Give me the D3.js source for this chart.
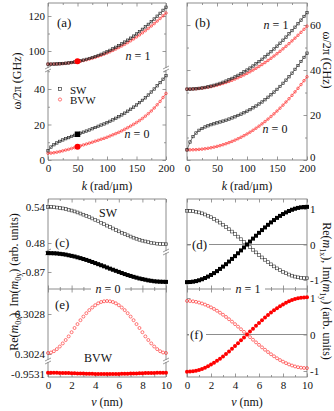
<!DOCTYPE html>
<html>
<head>
<meta charset="utf-8">
<script src="https://cdn.jsdelivr.net/npm/d3@7"></script>
<style>
  body { margin: 0; background: #fff; }
  svg { font-family: "Liberation Serif", "Times New Roman", "DejaVu Serif", serif; }
  svg text { font-family: "Liberation Serif", "Times New Roman", "DejaVu Serif", serif; fill: #111; }
</style>
</head>
<body>
<div id="chart"></div>
<script>
// ---------- data ----------
const kRad = [0,5,10,15,20,25,30,35,40,45,50,55,60,65,70,75,80,85,90,95,100,105,110,115,120,125,130,135,140,145,150,155,160,165,170,175,180,185,190,195,200];

// panel (a), GHz
const aSW1 = [92.5,92.51,92.54,92.61,92.71,92.84,93.0,93.2,93.44,93.72,94.04,94.4,94.8,95.24,95.73,96.26,96.83,97.45,98.11,98.82,99.57,100.37,101.22,102.12,103.06,104.06,105.1,106.19,107.33,108.52,109.76,111.05,112.39,113.78,115.23,116.73,118.28,119.88,121.53,123.24,125.0];
const aBVW1 = [92.5,92.51,92.54,92.6,92.68,92.8,92.95,93.13,93.35,93.6,93.88,94.21,94.57,94.96,95.4,95.87,96.39,96.94,97.54,98.18,98.86,99.57,100.34,101.14,101.99,102.88,103.82,104.8,105.82,106.89,108.01,109.17,110.37,111.62,112.92,114.27,115.66,117.1,118.58,120.12,121.7];
const aSW0 = [5.2,7.3,8.6,9.6,10.5,11.3,12.0,12.6,13.3,13.9,14.5,15.1,15.7,16.3,16.9,17.6,18.3,19.0,19.7,20.3,21.0,21.8,22.6,23.5,24.4,25.4,26.4,27.5,28.6,29.8,31.0,32.3,33.6,35.0,36.6,38.3,40.0,41.8,43.6,45.5,47.5];
const aBVW0 = [3.8,3.9,4.1,4.4,4.75,5.15,5.6,6.0,6.5,7.0,7.5,8.0,8.5,9.0,9.5,10.0,10.6,11.1,11.7,12.2,12.8,13.5,14.2,14.9,15.6,16.4,17.3,18.2,19.1,20.1,21.1,22.2,23.4,24.7,26.1,27.6,29.3,31.1,33.0,35.2,37.5];
// highlighted points at k = 50
const markK = 50;
const markSW0 = 14.5, markBVW0 = 7.5, markBVW1 = 94.2;

// panel (b), GHz
const bSW1 = [31.5,31.52,31.59,31.69,31.84,32.03,32.27,32.54,32.86,33.22,33.63,34.07,34.56,35.09,35.67,36.28,36.94,37.64,38.39,39.17,40.0,40.87,41.79,42.74,43.74,44.78,45.87,46.99,48.16,49.37,50.63,51.92,53.26,54.64,56.07,57.53,59.04,60.59,62.19,63.82,65.5];
const bBVW1 = [31.5,31.52,31.57,31.66,31.78,31.94,32.13,32.36,32.62,32.92,33.25,33.62,34.02,34.46,34.93,35.44,35.98,36.56,37.17,37.82,38.5,39.22,39.97,40.76,41.58,42.44,43.33,44.26,45.22,46.22,47.25,48.32,49.42,50.56,51.73,52.94,54.18,55.46,56.77,58.12,59.5];
const bSW0 = [4.5,8.0,10.4,12.0,13.2,14.0,14.7,15.2,15.7,16.1,16.5,16.9,17.3,17.7,18.2,18.7,19.2,19.8,20.4,21.0,21.7,22.4,23.2,24.0,24.9,25.8,26.8,27.9,29.0,30.2,31.4,32.7,34.1,35.5,37.0,38.6,40.3,42.0,43.8,45.6,47.5];
const bBVW0 = [4.5,4.51,4.55,4.61,4.71,4.84,5.0,5.2,5.44,5.72,6.04,6.4,6.8,7.24,7.73,8.26,8.83,9.45,10.11,10.82,11.57,12.37,13.22,14.12,15.06,16.06,17.1,18.19,19.33,20.52,21.76,23.05,24.39,25.78,27.23,28.73,30.28,31.88,33.53,35.24,37.0];

const vNm = [0,0.25,0.5,0.75,1,1.25,1.5,1.75,2,2.25,2.5,2.75,3,3.25,3.5,3.75,4,4.25,4.5,4.75,5,5.25,5.5,5.75,6,6.25,6.5,6.75,7,7.25,7.5,7.75,8,8.25,8.5,8.75,9,9.25,9.5,9.75,10];

// n = 0 profiles (c: SW, e: BVW)
const cReSW = [0.5400,0.5399,0.5396,0.5391,0.5385,0.5376,0.5366,0.5354,0.5341,0.5326,0.5309,0.5291,0.5272,0.5252,0.5231,0.5209,0.5186,0.5162,0.5138,0.5114,0.5090,0.5066,0.5042,0.5018,0.4994,0.4971,0.4949,0.4928,0.4908,0.4889,0.4871,0.4854,0.4839,0.4826,0.4814,0.4804,0.4795,0.4789,0.4784,0.4781,0.4780];
const cImSW = [-0.8490,-0.8491,-0.8492,-0.8494,-0.8498,-0.8502,-0.8507,-0.8514,-0.8521,-0.8528,-0.8537,-0.8546,-0.8556,-0.8566,-0.8577,-0.8589,-0.8601,-0.8613,-0.8625,-0.8637,-0.8650,-0.8663,-0.8675,-0.8687,-0.8699,-0.8711,-0.8723,-0.8734,-0.8744,-0.8754,-0.8763,-0.8772,-0.8779,-0.8786,-0.8793,-0.8798,-0.8803,-0.8806,-0.8808,-0.8809,-0.8810];
const eReBVW = [0.30241,0.302415,0.302428,0.302449,0.302475,0.302506,0.30254,0.302576,0.302618,0.30266,0.302699,0.302738,0.302774,0.302808,0.302839,0.302865,0.302888,0.302907,0.30292,0.302927,0.30293,0.302927,0.30292,0.302907,0.302888,0.302865,0.302839,0.302808,0.302774,0.302738,0.302699,0.30266,0.302618,0.302576,0.30254,0.302506,0.302475,0.302449,0.302428,0.302415,0.30241];
const eImBVW = [-0.953087,-0.953087,-0.953087,-0.953088,-0.953089,-0.953089,-0.95309,-0.953091,-0.953092,-0.953093,-0.953094,-0.953095,-0.953096,-0.953097,-0.953098,-0.953098,-0.953099,-0.953099,-0.9531,-0.9531,-0.9531,-0.9531,-0.9531,-0.953099,-0.953099,-0.953098,-0.953098,-0.953097,-0.953096,-0.953095,-0.953094,-0.953093,-0.953092,-0.953091,-0.95309,-0.953089,-0.953089,-0.953088,-0.953087,-0.953087,-0.953087];

// n = 1 profiles (d: SW, f: BVW)
const dReSW = [0.95,0.947,0.938,0.924,0.904,0.878,0.846,0.81,0.769,0.722,0.672,0.617,0.558,0.496,0.431,0.364,0.294,0.222,0.149,0.075,0,-0.075,-0.149,-0.222,-0.294,-0.364,-0.431,-0.496,-0.558,-0.617,-0.672,-0.722,-0.769,-0.81,-0.846,-0.878,-0.904,-0.924,-0.938,-0.947,-0.95];
const dImSW = [-1.06,-1.057,-1.047,-1.031,-1.008,-0.979,-0.944,-0.904,-0.858,-0.806,-0.75,-0.688,-0.623,-0.554,-0.481,-0.406,-0.328,-0.247,-0.166,-0.083,0,0.083,0.166,0.247,0.328,0.406,0.481,0.554,0.623,0.688,0.75,0.806,0.858,0.904,0.944,0.979,1.008,1.031,1.047,1.057,1.06];
const fReBVW = [0.92,0.917,0.909,0.895,0.875,0.85,0.82,0.784,0.744,0.7,0.651,0.597,0.541,0.481,0.418,0.352,0.284,0.215,0.144,0.072,0,-0.072,-0.144,-0.215,-0.284,-0.352,-0.418,-0.481,-0.541,-0.597,-0.651,-0.7,-0.744,-0.784,-0.82,-0.85,-0.875,-0.895,-0.909,-0.917,-0.92];
const fImBVW = [-1.02,-1.017,-1.007,-0.992,-0.97,-0.942,-0.909,-0.87,-0.825,-0.776,-0.721,-0.662,-0.6,-0.533,-0.463,-0.39,-0.315,-0.238,-0.16,-0.08,0,0.08,0.16,0.238,0.315,0.39,0.463,0.533,0.6,0.662,0.721,0.776,0.825,0.87,0.909,0.942,0.97,0.992,1.007,1.017,1.02];

// tick values
const kTicks = [0,50,100,150,200], kMinor = [25,75,125,175];
const vTicks = [0,2,4,6,8,10], vMinor = [1,3,5,7,9];
const aUpTicks = [100,120], aUpMinor = [110];
const aLoTicks = [0,20,40], aLoMinor = [10,30,50];
const bTicks = [0,20,40,60], bMinor = [10,30,50];
const cUpTicks = [0.54,0.48], cLoTicks = [-0.87];
const eUpTicks = [0.3028,0.3024], eLoTicks = [-0.9531];
const dfTicks = [1,0,-1];

// ---------- layout ----------
const gray = "#808080", red = "#ff2020", blk = "#1a1a1a";
const serif = '"Liberation Serif", "Times New Roman", "DejaVu Serif", serif';
const L = {x0:48, x1:166}, R = {x0:187, x1:307};
const topY0 = 3, topY1 = 160, botY0 = 199, botMid = 289, botY1 = 377;

const svg = d3.select("#chart").append("svg").attr("width",334).attr("height",411);

// scales
let xkA = d3.scaleLinear().domain([0,200]).range([L.x0,L.x1]);
let xkB = d3.scaleLinear().domain([0,200]).range([R.x0,R.x1]);
let yAUp = d3.scaleLinear().domain([90.29,127.43]).range([68,topY0]);
let yALo = d3.scaleLinear().domain([0,50.7]).range([topY1,70]);
let yB = d3.scaleLinear().domain([0,69.8]).range([topY1,topY0]);

let xvL = d3.scaleLinear().domain([0,10]).range([L.x0,L.x1]);
let xvR = d3.scaleLinear().domain([0,10]).range([R.x0,R.x1]);
let yCUp = d3.scaleLinear().domain([0.4667,0.5533]).range([251,botY0]);
let yCLo = d3.scaleLinear().domain([-0.8889,-0.8489]).range([botMid,253]);
let yEUp = d3.scaleLinear().domain([0.30234,0.30305]).range([360,botMid]);
let yELo = d3.scaleLinear().domain([-0.95313,-0.95298]).range([botY1,362]);
let yD = d3.scaleLinear().domain([-1,1]).range([280,209]);
let yF = d3.scaleLinear().domain([-1,1]).range([371,298]);

function styleAxis(g, size) {
  g.select(".domain").remove();
  g.attr("font-family",serif);
  g.selectAll("line").attr("stroke",gray).attr("stroke-width",0.8);
  g.selectAll("text").attr("font-family",serif).attr("font-size",size||11).attr("fill","#111");
}

// axis helper: kind = bottom/top/left/right, ticks inward
function axis(kind, scale, pos, vals, minor, labels, pad) {
  let mk = {bottom:d3.axisBottom, top:d3.axisTop, left:d3.axisLeft, right:d3.axisRight}[kind];
  let tr = (kind=="bottom"||kind=="top") ? "translate(0,"+pos+")" : "translate("+pos+",0)";
  let g = svg.append("g").attr("transform",tr)
    .call(mk(scale).tickValues(vals).tickSizeInner(-3.5).tickSizeOuter(0).tickPadding(pad||3)
      .tickFormat(labels ? (d => String(d)) : ""));
  styleAxis(g);
  if (minor) {
    let gm = svg.append("g").attr("transform",tr)
      .call(mk(scale).tickValues(minor).tickSizeInner(-2).tickSizeOuter(0).tickFormat(""));
    styleAxis(gm);
  }
  return g;
}

function hline(x0,x1,y) {
  svg.append("line").attr("x1",x0).attr("x2",x1).attr("y1",y).attr("y2",y).attr("stroke",gray).attr("stroke-width",0.9);
}
function vline(x,y0,y1) {
  svg.append("line").attr("x1",x).attr("x2",x).attr("y1",y0).attr("y2",y1).attr("stroke",gray).attr("stroke-width",0.9);
}
function breakMark(x,y) {
  [-1.5,1.5].forEach(o => {
    svg.append("line").attr("x1",x-3).attr("x2",x+3).attr("y1",y+o+1.5).attr("y2",y+o-1.5)
       .attr("stroke",gray).attr("stroke-width",0.8);
  });
}

function marks(xs, ys, xS, yS, shape, size, filled, col) {
  let pts = xs.map((x,i) => [xS(x), yS(ys[i])]);
  let g = svg.append("g");
  if (shape=="sq") {
    g.selectAll("rect").data(pts).join("rect")
      .attr("x",d=>d[0]-size/2).attr("y",d=>d[1]-size/2).attr("width",size).attr("height",size)
      .attr("fill",filled?col:"none").attr("stroke",col).attr("stroke-width",filled?0:0.6);
  } else {
    g.selectAll("circle").data(pts).join("circle")
      .attr("cx",d=>d[0]).attr("cy",d=>d[1]).attr("r",size/2)
      .attr("fill",filled?col:"none").attr("stroke",col).attr("stroke-width",filled?0:0.6);
  }
}
function curve(xs, ys, xS, yS, col) {
  let line = d3.line().x(d=>xS(d[0])).y(d=>yS(d[1]));
  svg.append("path").attr("d",line(xs.map((x,i)=>[x,ys[i]])))
     .attr("fill","none").attr("stroke",col).attr("stroke-width",0.6);
}

function txt(x,y,s,opt) {
  opt = opt || {};
  let t = svg.append("text").attr("x",x).attr("y",y).attr("font-size",opt.size||12)
     .attr("font-family",serif).attr("text-anchor",opt.anchor||"start");
  if (opt.rot) t.attr("transform","rotate("+opt.rot+","+x+","+y+")");
  return t;
}
function nLabel(x,y,n,bg) {
  if (bg) svg.append("rect").attr("x",x-17).attr("y",y-9).attr("width",34).attr("height",11).attr("fill","#fff");
  let t = txt(x,y,"",{anchor:"middle"});
  t.append("tspan").attr("font-style","italic").text("n");
  t.append("tspan").text(" = "+n);
}

// ================= panel (a) =================
hline(L.x0,L.x1,topY0); hline(L.x0,L.x1,topY1);
vline(L.x0,topY0,68); vline(L.x0,70,topY1);
vline(L.x1,topY0,68); vline(L.x1,70,topY1);
breakMark(L.x0,69); breakMark(L.x1,69);
axis("bottom",xkA,topY1,kTicks,kMinor,true,4);
axis("top",xkA,topY0,kTicks,kMinor,false);
axis("left",yAUp,L.x0,aUpTicks,aUpMinor,true,3);
axis("left",yALo,L.x0,aLoTicks,aLoMinor,true,3);
axis("right",yAUp,L.x1,aUpTicks,aUpMinor,false);
axis("right",yALo,L.x1,aLoTicks,aLoMinor,false);

marks(kRad,aBVW1,xkA,yAUp,"ci",2.6,false,red);
curve(kRad,aBVW1,xkA,yAUp,red);
marks(kRad,aSW1,xkA,yAUp,"sq",2.4,false,blk);
curve(kRad,aSW1,xkA,yAUp,blk);
marks(kRad,aBVW0,xkA,yALo,"ci",2.6,false,red);
curve(kRad,aBVW0,xkA,yALo,red);
marks(kRad,aSW0,xkA,yALo,"sq",2.4,false,blk);
curve(kRad,aSW0,xkA,yALo,blk);
marks([markK],[markSW0],xkA,yALo,"sq",5.5,true,"#000");
marks([markK],[markBVW0],xkA,yALo,"ci",6,true,"#ff0000");
marks([markK],[markBVW1],xkA,yAUp,"ci",6,true,"#ff0000");

// legend
marks([0],[0],d3.scaleLinear().range([60,60]),d3.scaleLinear().range([89,89]),"sq",3,false,blk);
marks([0],[0],d3.scaleLinear().range([60,60]),d3.scaleLinear().range([99.5,99.5]),"ci",3.2,false,red);
txt(70,93.5,"SW",{size:11}).text("SW");
txt(70,104,"BVW",{size:11}).text("BVW");

txt(57,27,"",{size:13}).text("(a)");
nLabel(138,60,1);
nLabel(137,138,0);

// ================= panel (b) =================
svg.append("rect").attr("x",R.x0).attr("y",topY0).attr("width",R.x1-R.x0).attr("height",topY1-topY0)
   .attr("fill","none").attr("stroke",gray).attr("stroke-width",0.9);
axis("bottom",xkB,topY1,kTicks,kMinor,true,4);
axis("top",xkB,topY0,kTicks,kMinor,false);
let bRight = axis("right",yB,R.x1,bTicks,bMinor,true,3);
// lift the "0" so it clears the "200" below it
bRight.selectAll("text").filter(d => d === 0).attr("dy","0");
axis("left",yB,R.x0,bTicks,bMinor,false);

marks(kRad,bBVW1,xkB,yB,"ci",2.6,false,red);
curve(kRad,bBVW1,xkB,yB,red);
marks(kRad,bSW1,xkB,yB,"sq",2.4,false,blk);
curve(kRad,bSW1,xkB,yB,blk);
marks(kRad,bBVW0,xkB,yB,"ci",2.6,false,red);
curve(kRad,bBVW0,xkB,yB,red);
marks(kRad,bSW0,xkB,yB,"sq",2.4,false,blk);
curve(kRad,bSW0,xkB,yB,blk);

txt(195,27,"",{size:13}).text("(b)");
nLabel(276,29,1);
nLabel(275,133,0);

// axis titles (top)
function kTitle(x) {
  let t = txt(x,190,"",{anchor:"middle"});
  t.append("tspan").attr("font-style","italic").text("k");
  t.append("tspan").text(" (rad/\u03bcm)");
}
kTitle(107); kTitle(247);
txt(21,81,"",{anchor:"middle",rot:-90}).text("\u03c9/2\u03c0  (GHz)");
txt(323,60,"",{anchor:"middle",rot:90}).text("\u03c9/2\u03c0  (GHz)");

// ================= panels (c) / (e) =================
hline(L.x0,L.x1,botY0); hline(L.x0,L.x1,botY1);
vline(L.x0,botY0,251); vline(L.x0,253,360); vline(L.x0,362,botY1);
vline(L.x1,botY0,251); vline(L.x1,253,360); vline(L.x1,362,botY1);
breakMark(L.x0,252); breakMark(L.x1,252);
breakMark(L.x0,361); breakMark(L.x1,361);
axis("bottom",xvL,botY1,vTicks,vMinor,true,4);
axis("top",xvL,botY0,vTicks,vMinor,false);
axis("left",yCUp,L.x0,cUpTicks,null,true,3);
axis("left",yCLo,L.x0,cLoTicks,null,true,3);
axis("left",yEUp,L.x0,eUpTicks,null,true,3);
axis("left",yELo,L.x0,eLoTicks,null,true,3);
// shared divider with ticks both ways
hline(L.x0,L.x1,botMid);
axis("top",xvL,botMid,vTicks,vMinor,false);
axis("bottom",xvL,botMid,vTicks,vMinor,false);

marks(vNm,cReSW,xvL,yCUp,"sq",2.8,false,"#333");
marks(vNm,cImSW,xvL,yCLo,"sq",4,true,"#000");
marks(vNm,eReBVW,xvL,yEUp,"ci",3,false,red);
marks(vNm,eImBVW,xvL,yELo,"ci",4,true,"#ff0000");

nLabel(108,293,0,true);
txt(55,247,"",{size:13}).text("(c)");
txt(55,309,"",{size:13}).text("(e)");
txt(108,217,"",{anchor:"middle"}).text("SW");
txt(98,362,"",{anchor:"middle"}).text("BVW");

// ================= panels (d) / (f) =================
svg.append("rect").attr("x",R.x0).attr("y",botY0).attr("width",R.x1-R.x0).attr("height",botY1-botY0)
   .attr("fill","none").attr("stroke",gray).attr("stroke-width",0.9);
hline(R.x0,R.x1,botMid);
hline(R.x0,R.x1,yD(0));
hline(R.x0,R.x1,yF(0));
axis("bottom",xvR,botY1,vTicks,vMinor,true,4);
axis("top",xvR,botY0,vTicks,vMinor,false);
axis("top",xvR,botMid,vTicks,vMinor,false);
axis("bottom",xvR,botMid,vTicks,vMinor,false);
axis("right",yD,R.x1,dfTicks,null,true,3);
axis("right",yF,R.x1,dfTicks,null,true,3);
axis("left",yD,R.x0,dfTicks,null,false);
axis("left",yF,R.x0,dfTicks,null,false);

marks(vNm,dReSW,xvR,yD,"sq",2.8,false,"#333");
marks(vNm,dImSW,xvR,yD,"sq",4,true,"#000");
marks(vNm,fReBVW,xvR,yF,"ci",3,false,red);
marks(vNm,fImBVW,xvR,yF,"ci",4,true,"#ff0000");

nLabel(248,293,1,true);
svg.append("rect").attr("x",191).attr("y",238).attr("width",18).attr("height",13).attr("fill","#fff");
txt(192,249,"",{size:13}).text("(d)");
svg.append("rect").attr("x",189).attr("y",328).attr("width",17).attr("height",13).attr("fill","#fff");
txt(190,339,"",{size:13}).text("(f)");

// bottom axis titles
function vTitle(x) {
  let t = txt(x,406,"",{anchor:"middle"});
  t.append("tspan").attr("font-style","italic").text("v");
  t.append("tspan").text(" (nm)");
}
vTitle(107); vTitle(247);

function mTitle(x,y,n,rot) {
  let t = txt(x,y,"",{anchor:"middle",rot:rot});
  t.append("tspan").text("Re(");
  t.append("tspan").attr("font-style","italic").text("m");
  t.append("tspan").attr("font-size",8).attr("dy",3).text(n+"x");
  t.append("tspan").attr("dy",-3).text("), Im(");
  t.append("tspan").attr("font-style","italic").text("m");
  t.append("tspan").attr("font-size",8).attr("dy",3).text(n+"y");
  t.append("tspan").attr("dy",-3).text(")  (arb. units)");
}
mTitle(18,282,0,-90);
mTitle(323,291,1,90);
</script>
</body>
</html>
